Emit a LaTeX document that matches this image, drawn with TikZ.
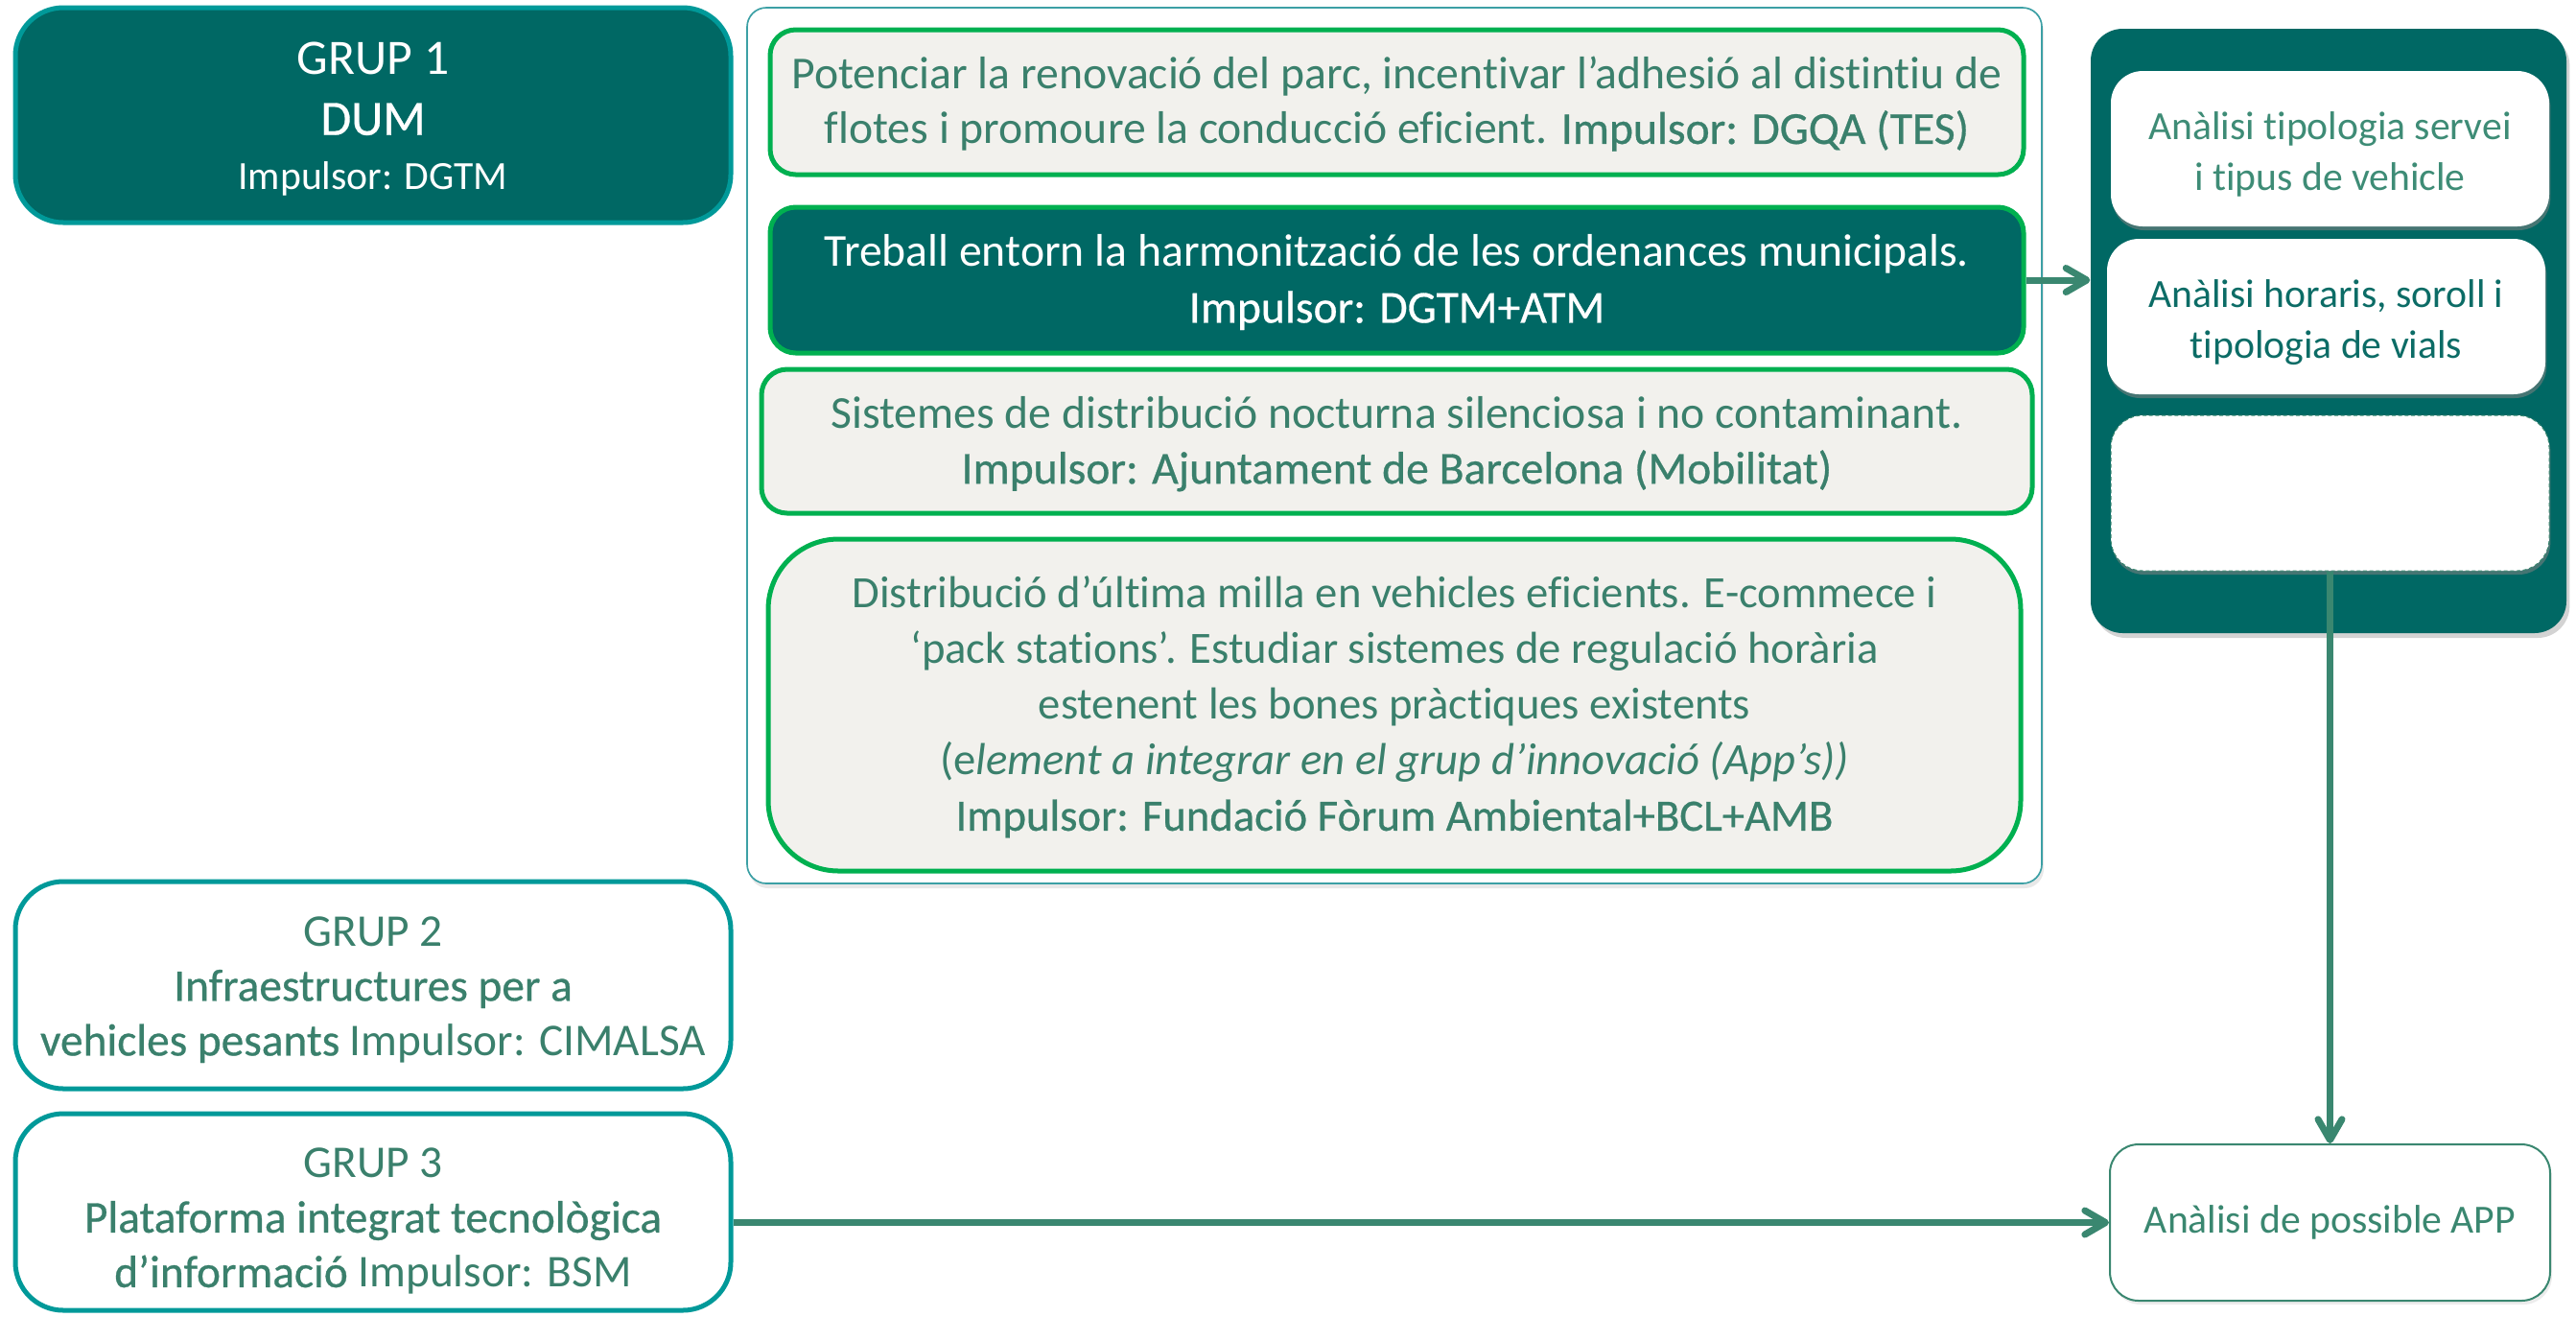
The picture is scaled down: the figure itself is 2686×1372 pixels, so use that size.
\documentclass[tikz,border=0pt]{standalone}
\usepackage{fontspec}
\setmainfont{Carlito}[Ligatures=CommonOff]
\newfontfamily\medfont{Carlito}[FakeBold=0.6,Ligatures=CommonOff]
\usetikzlibrary{arrows.meta,shadows}
\definecolor{dteal}{RGB}{0,104,100}
\definecolor{gteal}{RGB}{0,153,153}
\definecolor{bgreen}{RGB}{0,176,80}
\definecolor{lgray}{RGB}{242,241,237}
\definecolor{tgreen}{RGB}{58,128,108}
\definecolor{arrowc}{RGB}{58,135,112}
\definecolor{fteal}{RGB}{60,160,165}
\definecolor{bdark}{RGB}{12,108,102}
\definecolor{blight}{RGB}{62,140,118}
% lower a centred block of lines by #1 while keeping its box size
\newcommand\lowtxt[2]{\raisebox{-#1}[\height][\depth]{\begin{tabular}{@{}c@{}}#2\end{tabular}}}
\begin{document}
\begin{tikzpicture}[x=0.3pt,y=-0.3pt,
  base/.style={inner sep=0pt, align=center, font={\fontsize{12.5}{17}\selectfont}},
  grpdark/.style={base, fill=dteal, draw=gteal, line width=1.5pt, rounded corners=15pt, text=white,
     minimum width=223.8pt},
  grplight/.style={base, fill=white, draw=gteal, line width=1.5pt, rounded corners=15pt, text=tgreen,
     minimum width=223.8pt, font={\fontsize{14.2}{17.1}\selectfont}},
  actlight/.style={base, fill=lgray, draw=bgreen, line width=1.5pt, rounded corners=8pt, text=tgreen,
     font={\fontsize{14.3}{17.2}\selectfont}},
  actdark/.style={base, fill=dteal, draw=bgreen, line width=1.5pt, rounded corners=8pt, text=white,
     font={\fontsize{14.3}{17.6}\selectfont}},
  frame/.style={base, fill=white, draw=fteal, line width=0.5pt, rounded corners=6pt,
     drop shadow={opacity=0.18, shadow xshift=0.6pt, shadow yshift=-1.5pt}},
  panel/.style={base, fill=dteal, rounded corners=10pt,
     drop shadow={opacity=0.35, shadow xshift=1pt, shadow yshift=-1.5pt}},
  subbox/.style={base, fill=white, rounded corners=10pt, font={\fontsize{12.5}{15.8}\selectfont},
     minimum width=137.1pt, minimum height=48.6pt,
     drop shadow={opacity=0.55, shadow xshift=0.4pt, shadow yshift=-1.2pt}},
  appbox/.style={base, fill=white, draw=arrowc, line width=0.6pt, rounded corners=9pt, text=arrowc,
     drop shadow={opacity=0.15, shadow xshift=0.6pt, shadow yshift=-1.2pt}},
  conn/.style={draw=arrowc, line width=2.1pt, -{Straight Barb[length=6.5pt,width=7.5pt,round]}}
]
\useasboundingbox (0,0) rectangle (2686,1372);

% left groups
\node[grpdark, minimum height=67.2pt] (g1) at (389,120) {\lowtxt{1.8pt}{{\fontsize{15.5}{17}\selectfont GRUP 1}\\[2pt]{\fontsize{15.5}{17}\selectfont\medfont DUM}\\Impulsor: DGTM}};
\node[grplight, minimum height=64.8pt] (g2) at (389,1027) {\lowtxt{1.5pt}{GRUP 2\\{\medfont Infraestructures per a}\\{\medfont vehicles pesants} Impulsor: CIMALSA}};
\node[grplight, minimum height=61.5pt] (g3) at (389,1263.5) {\lowtxt{3pt}{GRUP 3\\{\medfont Plataforma integrat tecnològica}\\{\medfont d’informació} Impulsor: BSM}};

% middle container and actions
\node[frame, minimum width=405pt, minimum height=273.9pt] (mid) at (1454,464.5) {};
\node[actlight, minimum width=392.1pt, minimum height=45.3pt] (a1) at (1456.5,106.5) {\lowtxt{1pt}{Potenciar la renovació del parc, incentivar l’adhesió al distintiu de\\flotes i promoure la conducció eficient. {\medfont Impulsor: DGQA (TES)}}};
\node[actdark, minimum width=392.1pt, minimum height=45.6pt] (a2) at (1456.5,292) {\lowtxt{1pt}{Treball entorn la harmonització de les ordenances municipals.\\{\medfont Impulsor: DGTM+ATM}}};
\node[actlight, minimum width=397.5pt, minimum height=45pt] (a3) at (1456.5,460) {\lowtxt{1.2pt}{Sistemes de distribució nocturna silenciosa i no contaminant.\\{\medfont Impulsor: Ajuntament de Barcelona (Mobilitat)}}};
\node[actlight, rounded corners=22pt, minimum width=391.8pt, minimum height=103.8pt, font={\fontsize{14}{17.4}\selectfont}] (a4) at (1454,735) {\lowtxt{1pt}{Distribució d’última milla en vehicles eficients. E-commece i\\‘pack stations’. Estudiar sistemes de regulació horària\\estenent les bones pràctiques existents\\(e\textit{lement a integrar en el grup d’innovació (App’s))}\\{\medfont Impulsor: Fundació Fòrum Ambiental+BCL+AMB}}};

% right panel
\node[panel, minimum width=148.8pt, minimum height=189pt] (rc) at (2428,345) {};
\node[subbox, text=blight] (b1) at (2429.5,155) {\lowtxt{2pt}{Anàlisi tipologia servei\\i tipus de vehicle}};
\node[subbox, text=bdark] (b2) at (2425.5,330) {\lowtxt{2pt}{Anàlisi horaris, soroll i\\tipologia de vials}};
\node[subbox, draw=arrowc, line width=0.3pt, dash pattern=on 1.2pt off 0.8pt] (b3) at (2429.5,514) {};

% app box
\node[appbox, minimum width=137.7pt, minimum height=48.9pt] (app) at (2429.5,1274.5) {Anàlisi de possible APP};

% connectors
\draw[conn] (a2.east) -- (rc.west |- a2.east);
\draw[conn] (b3.south) -- (app.north);
\draw[conn] (g3.east |- app.west) -- (app.west);
\end{tikzpicture}
\end{document}
